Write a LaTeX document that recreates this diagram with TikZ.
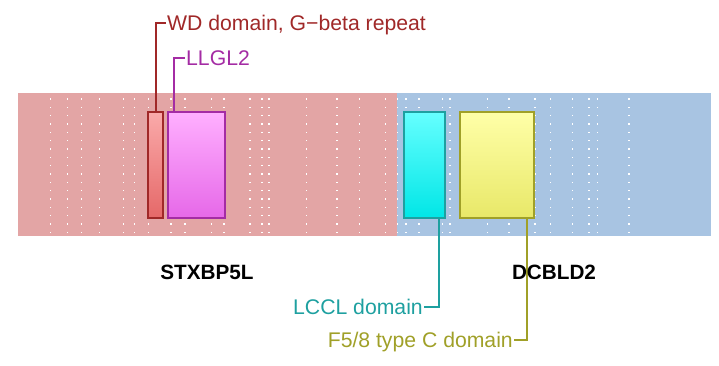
\documentclass[tikz,border=0pt]{standalone}
\usepackage{fontspec}
\setmainfont{Liberation Sans}
\definecolor{bandred}{HTML}{E3A5A5}
\definecolor{bandblue}{HTML}{A8C4E2}
\definecolor{wdline}{HTML}{A02828}
\definecolor{wdtop}{HTML}{FAAAAA}
\definecolor{wdbot}{HTML}{E56868}
\definecolor{llline}{HTML}{A42CA4}
\definecolor{lltop}{HTML}{FFB0FF}
\definecolor{llbot}{HTML}{E668E8}
\definecolor{lcline}{HTML}{1EA0A0}
\definecolor{lctop}{HTML}{66FFFF}
\definecolor{lcbot}{HTML}{00E6E6}
\definecolor{f5line}{HTML}{A0A028}
\definecolor{f5top}{HTML}{FFFFA8}
\definecolor{f5bot}{HTML}{E8E868}
\tikzset{
  dom/.style={draw, line width=1.9pt, minimum height=106.6pt, inner sep=0pt, anchor=north west},
  lbl/.style={font=\fontsize{21.2}{24}\selectfont, inner sep=1pt, text height=15.2pt, text depth=0pt},
  gene/.style={font=\fontsize{20.7}{24}\selectfont\bfseries, inner sep=0pt, text height=14.8pt, text depth=0pt},
  conn/.style={line width=2pt}
}
\begin{document}
\begin{tikzpicture}[x=1pt,y=-1pt]
\useasboundingbox (0,0) rectangle (719,366);
% bands
\fill[bandred] (18,93) rectangle (397,236);
\fill[bandblue] (397,93) rectangle (711,236);
% dots
\foreach \x in {50.7,67.7,81.7,99.7,123.3,134.7,148.7,171,185,211.7,224,250,262,269,306.7,337,359.3,385.7,397.5,406,419,442.3,450,487.3,509,535,550.7,572.3,589,597.3,629}
  \foreach \k in {0,...,16}
    \fill[white] ({\x-0.75},{99+8.333*\k-0.75}) rectangle +(1.5,1.5);
% domain boxes
\node[dom, draw=wdline, top color=wdtop, bottom color=wdbot, minimum width=15pt] (wd) at (147.3,110.7) {};
\node[dom, draw=llline, top color=lltop, bottom color=llbot, minimum width=57.3pt] (llgl2) at (166.7,110.7) {};
\node[dom, draw=lcline, top color=lctop, bottom color=lcbot, minimum width=41pt] (lccl) at (403.3,110.7) {};
\node[dom, draw=f5line, top color=f5top, bottom color=f5bot, minimum width=73.7pt] (f58) at (459,110.7) {};
% labels
\node[lbl, text=wdline, anchor=west] (wdlab) at (166,22.7) {WD domain, G\textminus beta repeat};
\node[lbl, text=llline, anchor=west] (llgl2lab) at (185,58) {LLGL2};
\node[lbl, text=lcline, anchor=east] (lccllab) at (424,306.7) {LCCL domain};
\node[lbl, text=f5line, anchor=east] (f58lab) at (514,340) {F5/8 type C domain};
% connectors
\draw[conn, wdline] (wd.north) |- (wdlab.west);
\draw[conn, llline] ([xshift=7.3pt]llgl2.north west) |- (llgl2lab.west);
\draw[conn, lcline] ([xshift=-7.6pt]lccl.south east) |- (lccllab.east);
\draw[conn, f5line] ([xshift=-7.7pt]f58.south east) |- (f58lab.east);
% gene names
\node[gene] (stx) at (207,271.7) {STXBP5L};
\node[gene] (dcb) at (554,271.7) {DCBLD2};
\end{tikzpicture}
\end{document}
